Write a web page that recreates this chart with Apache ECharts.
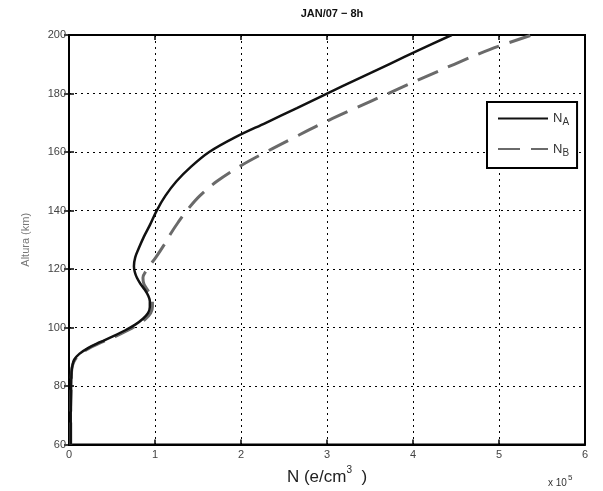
<!DOCTYPE html>
<html>
<head>
<meta charset="utf-8">
<script src="https://cdn.jsdelivr.net/npm/echarts@6/dist/echarts.min.js"></script>
<style>html,body{margin:0;padding:0;background:#fff}#c{width:603px;height:491px}</style>
</head>
<body>
<div id="c"></div>
<script>
// Altitude (km) and electron density (x10^5 e/cm^3)
var altA = [60, 70, 80, 85, 87, 89, 91, 93, 95, 97, 99, 101, 103, 105, 107, 109, 111, 113, 115, 117, 119, 121, 124, 127, 131, 135, 140, 145, 150, 155, 160, 165, 170, 175, 180, 185, 190, 195, 200];
var nA   = [0.02, 0.02, 0.025, 0.03, 0.04, 0.06, 0.12, 0.22, 0.36, 0.51, 0.65, 0.77, 0.86, 0.92, 0.94, 0.94, 0.92, 0.88, 0.83, 0.79, 0.765, 0.755, 0.77, 0.81, 0.87, 0.94, 1.02, 1.12, 1.25, 1.42, 1.63, 1.93, 2.29, 2.65, 3.00, 3.36, 3.72, 4.08, 4.45];
var altB = [60, 70, 80, 85, 87, 89, 91, 93, 95, 97, 99, 101, 103, 105, 107, 109, 111, 113, 115, 117, 120, 124, 128, 132, 136, 140, 145, 150, 155, 160, 165, 170, 175, 180, 185, 190, 195, 200];
var nB   = [0.02, 0.02, 0.025, 0.03, 0.04, 0.07, 0.13, 0.24, 0.38, 0.54, 0.68, 0.80, 0.89, 0.95, 0.97, 0.97, 0.95, 0.91, 0.87, 0.86, 0.91, 1.01, 1.10, 1.18, 1.27, 1.37, 1.52, 1.72, 1.98, 2.29, 2.62, 2.96, 3.33, 3.71, 4.09, 4.48, 4.89, 5.38];
var xTicks = [0, 1, 2, 3, 4, 5, 6];
var yTicks = [60, 80, 100, 120, 140, 160, 180, 200];
var names = ['NA', 'NB'];

function pairs(xs, ys) { return ys.map(function (y, i) { return [xs[i], y]; }); }

var font = 'Liberation Sans, Arial, sans-serif';
var grid = { left: 69, right: 18, top: 35, bottom: 46 };
var dotted = { color: '#000', width: 1, type: [2, 4] };

var chart = echarts.init(document.getElementById('c'), null, { renderer: 'canvas' });
chart.setOption({
  animation: false,
  backgroundColor: '#fff',
  title: {
    text: 'JAN/07 \u2212 8h', left: 327, top: 3, textAlign: 'center',
    textStyle: { fontFamily: font, fontSize: 11, fontWeight: 'bold', color: '#111' }
  },
  grid: Object.assign({ show: true, borderColor: '#000', borderWidth: 2, backgroundColor: 'transparent' }, grid),
  legend: {
    data: names, orient: 'vertical', left: 487, top: 102,
    padding: [10, 8, 10, 10], itemWidth: 50, itemHeight: 14, itemGap: 15, itemTextGap: 3,
    borderColor: '#000', borderWidth: 2, backgroundColor: '#fff',
    itemStyle: { opacity: 0 },
    formatter: function (n) { return '{n|N}{s|' + n.slice(1) + '}'; },
    textStyle: {
      fontFamily: font, color: '#333',
      rich: { n: { fontSize: 13, fontFamily: font, color: '#333' }, s: { fontSize: 10, fontFamily: font, color: '#333', padding: [8, 0, 0, 0] } }
    }
  },
  graphic: [{
    type: 'text', left: 548, top: 474,
    style: { text: '{a|x 10}{b|5}', rich: { a: { fontSize: 10, fontFamily: font, fill: '#333', padding: [4, 0, 0, 0] }, b: { fontSize: 8, fontFamily: font, fill: '#333', padding: [0, 0, 6, 1] } } }
  }],
  xAxis: [{
    type: 'value', min: xTicks[0], max: xTicks[xTicks.length - 1], interval: 1,
    position: 'bottom',
    name: '{a|N (e/cm}{b|3}{a|  )}', nameLocation: 'middle', nameGap: 17,
    nameTextStyle: { rich: { a: { fontSize: 17, fontFamily: font, color: '#222', padding: [6, 0, 0, 0] }, b: { fontSize: 10, fontFamily: font, color: '#222', padding: [0, 0, 8, 0] } } },
    axisLine: { show: true, onZero: false, lineStyle: { color: '#000', width: 2 } },
    axisTick: { show: true, inside: true, length: 5, lineStyle: { color: '#000', width: 1.5 } },
    axisLabel: { fontFamily: font, fontSize: 11, color: '#444', margin: 5 },
    splitLine: { show: true, lineStyle: dotted }
  }, {
    type: 'value', min: xTicks[0], max: xTicks[xTicks.length - 1], interval: 1,
    position: 'top',
    axisLine: { show: true, lineStyle: { color: '#000', width: 2 } },
    axisTick: { show: true, inside: true, length: 5, lineStyle: { color: '#000', width: 1.5 } },
    axisLabel: { show: false }, splitLine: { show: false }
  }],
  yAxis: [{
    type: 'value', min: yTicks[0], max: yTicks[yTicks.length - 1], interval: 20,
    position: 'left',
    name: 'Altura (km)', nameLocation: 'middle', nameGap: 38,
    nameTextStyle: { fontFamily: font, fontSize: 11, color: '#777' },
    axisLine: { show: true, onZero: false, lineStyle: { color: '#000', width: 2 } },
    axisTick: { show: true, inside: true, length: 5, lineStyle: { color: '#000', width: 1.5 } },
    axisLabel: { fontFamily: font, fontSize: 11, color: '#444', margin: 3 },
    splitLine: { show: true, lineStyle: dotted }
  }, {
    type: 'value', min: yTicks[0], max: yTicks[yTicks.length - 1], interval: 20,
    position: 'right',
    axisLine: { show: true, lineStyle: { color: '#000', width: 2 } },
    axisTick: { show: true, inside: true, length: 5, lineStyle: { color: '#000', width: 1.5 } },
    axisLabel: { show: false }, splitLine: { show: false }
  }],
  series: [{
    name: names[0], type: 'line', data: pairs(nA, altA), smooth: 0.35, showSymbol: false, symbol: 'none', z: 3,
    lineStyle: { color: '#111', width: 2.5 }, itemStyle: { color: '#111' }
  }, {
    name: names[1], type: 'line', data: pairs(nB, altB), smooth: 0.35, showSymbol: false, symbol: 'none', z: 2,
    lineStyle: { color: '#6a6a6a', width: 3, type: [22, 11] }, itemStyle: { color: '#6a6a6a' }
  }]
});
</script>
</body>
</html>
